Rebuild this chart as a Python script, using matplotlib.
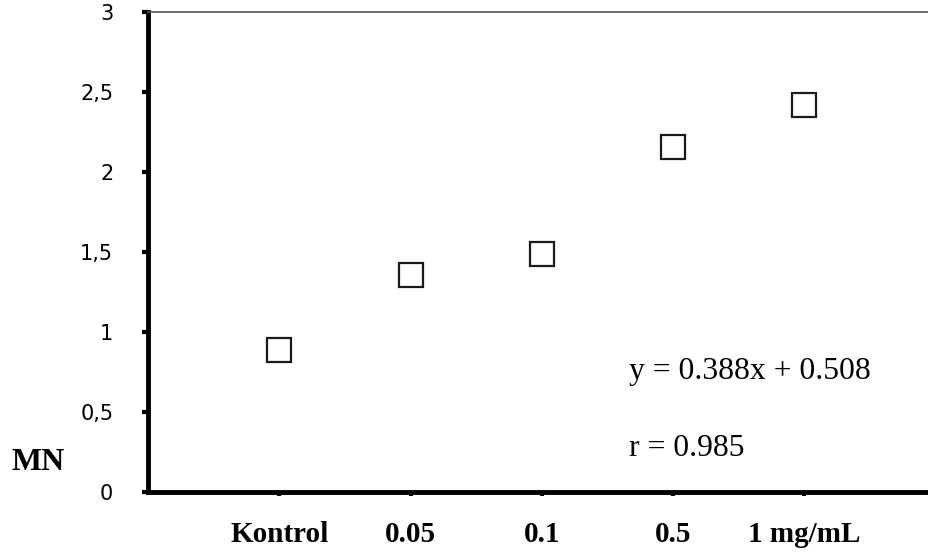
import matplotlib
matplotlib.use('Agg')
import matplotlib.pyplot as plt

# Micronucleus frequency per dose group
groups = ['Kontrol', '0.05', '0.1', '0.5', '1 mg/mL']
mn = [0.89, 1.355, 1.49, 2.155, 2.42]
yticks = [0, 0.5, 1, 1.5, 2, 2.5, 3]
yticklabels = ['0', '0,5', '1', '1,5', '2', '2,5', '3']
eq_text = 'y = 0.388x + 0.508'
r_text = 'r = 0.985'

fig = plt.figure(figsize=(9.29, 5.56), dpi=100)
ax = fig.add_axes([148/929, 1 - 492/556, 1 - 148/929, (492 - 12)/556])

xpos = list(range(1, len(groups) + 1))
ax.plot(xpos, mn, linestyle='none', marker='s', markersize=17,
        markerfacecolor='white', markeredgecolor='#1a1a1a', markeredgewidth=1.6,
        clip_on=False)

ax.set_xlim(0, 5.95)
ax.set_ylim(0, 3)

ax.set_xticks(xpos)
ax.set_xticklabels(groups, fontfamily='Liberation Serif', fontweight='bold',
                   fontsize=21)
ax.set_yticks(yticks)
ax.set_yticklabels(yticklabels, fontfamily='DejaVu Sans', fontsize=15)

ax.tick_params(axis='x', direction='out', length=3, width=3, pad=18)
ax.tick_params(axis='y', direction='out', length=4, width=3, pad=21)

ax.spines['left'].set_linewidth(3.5)
ax.spines['bottom'].set_linewidth(3.5)
ax.spines['right'].set_visible(False)
ax.spines['top'].set_linewidth(1.2)
ax.spines['top'].set_color('#555555')

ax.text(3.667, 0.755, eq_text, fontfamily='Liberation Serif', fontsize=22.8,
        va='center', ha='left')
ax.text(3.667, 0.275, r_text, fontfamily='Liberation Serif', fontsize=22.8,
        va='center', ha='left')

fig.text(12/929, 1 - 462/556, 'MN', fontfamily='Liberation Serif',
         fontweight='bold', fontsize=23, va='center', ha='left')

fig.savefig('out.png', dpi=100)
